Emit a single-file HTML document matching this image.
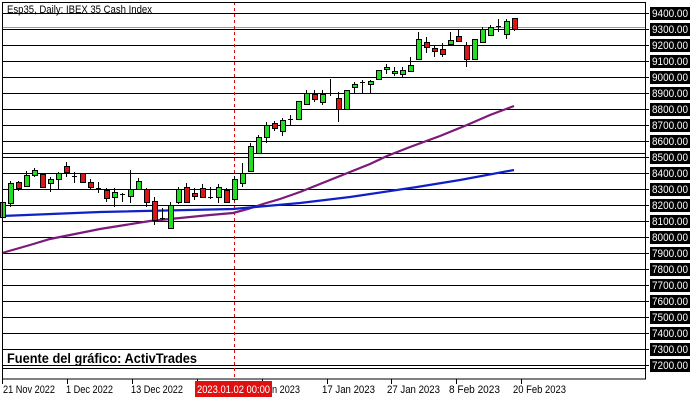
<!DOCTYPE html>
<html><head><meta charset="utf-8"><style>
body{margin:0;background:#fff;width:700px;height:400px;overflow:hidden}
text{font-family:"Liberation Sans",sans-serif}
</style></head><body>
<svg id="s" width="700" height="400" xmlns="http://www.w3.org/2000/svg" shape-rendering="crispEdges">
<rect x="0" y="0" width="700" height="400" fill="#fff"/>
<g id="grid"></g>
<line x1="234.5" y1="2" x2="234.5" y2="379" stroke="#d01010" stroke-dasharray="3,3"/>
<g id="ma" shape-rendering="auto">
<polyline fill="none" stroke="#7a1a7a" stroke-width="2.2" points="2,253 30,245 50,239 75,234 100,229 125,225 150,221 180,218 210,215 233,213 248,209 263,204 280,199 300,192 325,182 350,172 370,164 387,156 410,147 440,136 467,125 490,115 514,106"/>
<polyline fill="none" stroke="#1020c8" stroke-width="2.2" points="2,216 100,212 233,209 300,203 350,197 417,187 460,180 514,170"/>
</g>
<g id="c"></g>
<rect x="2.5" y="2.5" width="643" height="376.5" fill="none" stroke="#000"/>
<text x="7" y="13" font-size="11" fill="#000" textLength="145" lengthAdjust="spacingAndGlyphs">Esp35, Daily:  IBEX 35 Cash Index</text>
<text x="7" y="363" font-size="14" font-weight="bold" fill="#000" textLength="190" lengthAdjust="spacingAndGlyphs">Fuente del gráfico: ActivTrades</text>
<g id="ax"></g>
<rect x="195" y="381" width="77" height="16" fill="#e01010"/>
<text x="197" y="393" font-size="11" fill="#fff" textLength="73" lengthAdjust="spacingAndGlyphs">2023.01.02 00:00</text>
</svg>
<script>
var g=document.getElementById('grid'),ax=document.getElementById('ax'),c=document.getElementById('c'),h='',a='';
for(var i=0;i<=22;i++){var p=9400-i*100,y=13+i*16;
h+='<line x1="2" x2="646" y1="'+(y+.5)+'" y2="'+(y+.5)+'" stroke="#000"/>';
a+='<line x1="645" x2="649" y1="'+(y+.5)+'" y2="'+(y+.5)+'" stroke="#000"/><rect x="650" y="'+(y-6)+'" width="40" height="13" fill="#000"/><text x="652" y="'+(y+4)+'" font-size="11" fill="#fff" textLength="36" lengthAdjust="spacingAndGlyphs">'+p+'.00</text>';}
h+='<line x1="2" x2="646" y1="27.5" y2="27.5" stroke="#999"/><line x1="2" x2="646" y1="153.5" y2="153.5" stroke="#000"/><line x1="2" x2="646" y1="368.5" y2="368.5" stroke="#000"/>';
g.innerHTML=h;
var dl=[[2,'21 Nov 2022',3,52],[67,'1 Dec 2022',66,47],[132,'13 Dec 2022',131,52],[197,'',0,0],[262,'n 2023',272,28],[327,'17 Jan 2023',322,53],[391,'27 Jan 2023',387,53],[456,'8 Feb 2023',449,51],[521,'20 Feb 2023',513,53]];
dl.forEach(function(d){a+='<line x1="'+(d[0]+.5)+'" x2="'+(d[0]+.5)+'" y1="379" y2="384" stroke="#000"/>';if(d[1])a+='<text x="'+d[2]+'" y="393" font-size="11" fill="#000" textLength="'+d[3]+'" lengthAdjust="spacingAndGlyphs">'+d[1]+'</text>';});
ax.innerHTML=a;
var K=[['g',202,217,202,217],['g',183,203,181,207],['r',182,188,181,191],['g',175,186,171,187],['g',170,175,168,177],['r',174,187,174,187],['g',179,183,177,192],['g',173,179,172,189],['r',166,172,162,177],['d',176,176,172,183],['r',173,182,173,182],['r',182,187,179,189],['d',188,188,182,193],['r',190,198,188,202],['g',192,197,188,207],['d',194,194,193,202],['g',189,196,170,203],['g',181,189,178,190],['r',189,202,188,207],['r',201,220,197,225],['d',218,218,208,220],['g',205,228,202,229],['g',189,202,187,204],['r',187,202,183,203],['r',193,196,188,200],['r',188,197,184,198],['d',197,197,187,199],['g',187,197,184,203],['r',190,202,188,203],['g',179,199,176,201],['g',173,183,163,187],['g',146,171,143,172],['g',137,153,135,154],['g',125,137,122,143],['r',123,128,121,131],['g',120,131,118,136],['d',119,119,115,125],['g',101,119,101,119],['g',93,104,90,105],['r',94,99,90,102],['g',94,102,90,105],['d',93,93,79,96],['r',98,109,92,122],['g',90,109,90,109],['g',84,87,82,93],['d',82,82,80,93],['g',81,84,80,93],['g',70,79,70,79],['g',67,69,64,74],['g',71,73,67,76],['g',70,74,67,78],['g',65,71,57,72],['g',39,59,32,60],['r',42,47,37,53],['r',48,51,45,57],['r',49,54,43,57],['g',40,44,32,45],['r',36,41,30,42],['r',45,59,42,67],['g',39,59,39,59],['g',29,42,27,43],['g',27,35,25,36],['d',26,26,19,32],['g',21,34,19,39],['r',18,29,18,31]];
var s='';
K.forEach(function(k,i){var x=2+8*i;
s+='<line x1="'+(x+.5)+'" x2="'+(x+.5)+'" y1="'+k[3]+'" y2="'+k[4]+'" stroke="#000"/>';
if(k[0]=='d')s+='<line x1="'+(x-2)+'" x2="'+(x+3)+'" y1="'+(k[1]+.5)+'" y2="'+(k[1]+.5)+'" stroke="#000"/>';
else s+='<rect x="'+(x-2+.5)+'" y="'+(k[1]+.5)+'" width="5" height="'+Math.max(1,k[2]-k[1])+'" fill="'+(k[0]=='g'?'#22dd22':'#d81818')+'" stroke="#000"/>';});
c.innerHTML=s;
</script>
</body></html>
